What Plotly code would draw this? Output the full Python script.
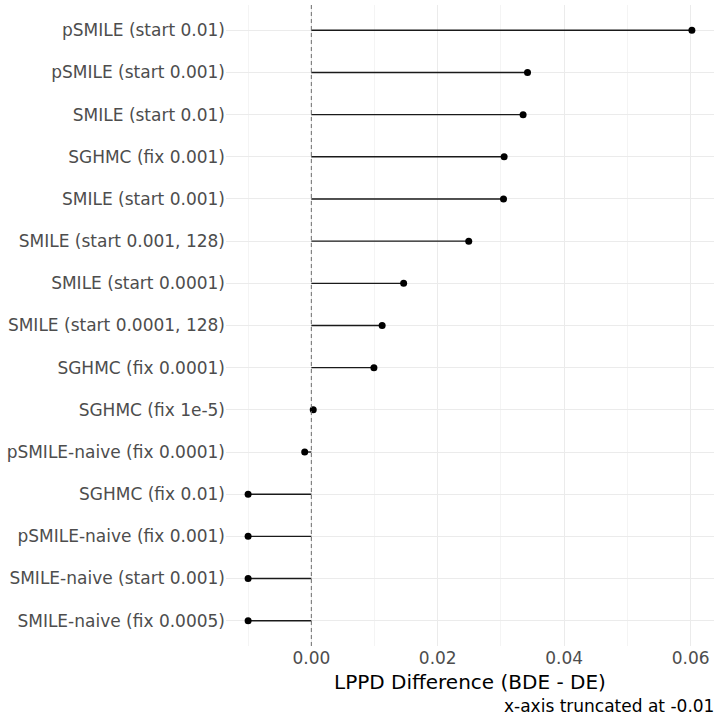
import plotly.graph_objects as go

methods = [
    "pSMILE (start 0.01)",
    "pSMILE (start 0.001)",
    "SMILE (start 0.01)",
    "SGHMC (fix 0.001)",
    "SMILE (start 0.001)",
    "SMILE (start 0.001, 128)",
    "SMILE (start 0.0001)",
    "SMILE (start 0.0001, 128)",
    "SGHMC (fix 0.0001)",
    "SGHMC (fix 1e-5)",
    "pSMILE-naive (fix 0.0001)",
    "SGHMC (fix 0.01)",
    "pSMILE-naive (fix 0.001)",
    "SMILE-naive (start 0.001)",
    "SMILE-naive (fix 0.0005)",
]
lppd_diff = [0.0602, 0.0342, 0.0335, 0.0305, 0.0304, 0.0249, 0.0146, 0.0112,
             0.0099, 0.0003, -0.00105, -0.0100, -0.0100, -0.0100, -0.0100]
x_ticks = [0.00, 0.02, 0.04, 0.06]
x_tick_labels = ["0.00", "0.02", "0.04", "0.06"]

seg_x, seg_y = [], []
for m, v in zip(methods, lppd_diff):
    seg_x += [0, v, None]
    seg_y += [m, m, None]

fig = go.Figure()
fig.add_shape(type="line", xref="x", yref="paper", x0=0, x1=0, y0=0, y1=1,
              line=dict(color="#6e6e6e", width=1, dash="4px,3px"), layer="above")
fig.add_trace(go.Scatter(x=seg_x, y=seg_y, mode="lines",
                         line=dict(color="#1a1a1a", width=1.4),
                         hoverinfo="skip", showlegend=False))
fig.add_trace(go.Scatter(x=lppd_diff, y=methods, mode="markers",
                         marker=dict(color="black", size=7),
                         showlegend=False))

fig.update_layout(
    width=718, height=718,
    margin=dict(l=226, r=4, t=5, b=72),
    paper_bgcolor="white", plot_bgcolor="white",
    font=dict(family="DejaVu Sans", color="#4d4d4d", size=17),
    xaxis=dict(range=[-0.0135, 0.0637], tickvals=x_ticks, ticktext=x_tick_labels,
               showgrid=True, gridcolor="#ebebeb", gridwidth=1.1,
               minor=dict(dtick=0.01, tick0=0, showgrid=True, gridcolor="#f4f4f4", gridwidth=0.6),
               zeroline=False, showline=False, ticks="",
               tickfont=dict(size=17, color="#4d4d4d")),
    yaxis=dict(categoryorder="array", categoryarray=methods[::-1],
               range=[-0.6, 14.6], showgrid=True, gridcolor="#ebebeb", gridwidth=1.1,
               zeroline=False, showline=False, ticks="",
               tickfont=dict(size=17, color="#4d4d4d")),
    annotations=[
        dict(text="LPPD Difference (BDE - DE)", xref="x", yref="paper", x=(-0.0135 + 0.0637) / 2,
             y=0, yshift=-36, showarrow=False, xanchor="center", yanchor="middle",
             font=dict(size=20, color="black", family="DejaVu Sans")),
        dict(text="x-axis truncated at -0.01", xref="paper", yref="paper", x=1, y=0,
             xshift=2, yshift=-60, showarrow=False, xanchor="right", yanchor="middle",
             font=dict(size=17, color="black", family="DejaVu Sans")),
    ],
)

fig.write_html("out.html", config={"displayModeBar": False},
               post_script="document.body.style.margin='0px';document.body.style.overflow='hidden';")
